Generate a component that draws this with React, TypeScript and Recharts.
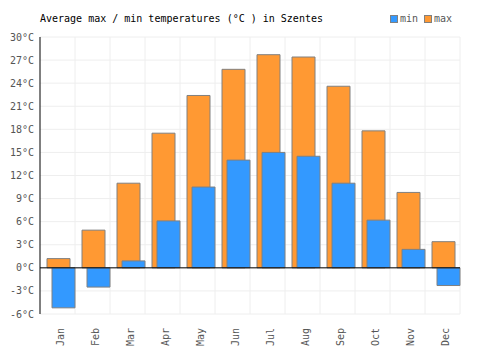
import { BarChart, Bar, XAxis, YAxis, CartesianGrid, ReferenceLine, Rectangle } from 'recharts'

const MONTHS = ['Jan', 'Feb', 'Mar', 'Apr', 'May', 'Jun', 'Jul', 'Aug', 'Sep', 'Oct', 'Nov', 'Dec']
const MAX_TEMPS = [1.2, 4.9, 11.0, 17.5, 22.4, 25.8, 27.7, 27.4, 23.6, 17.8, 9.8, 3.4]
const MIN_TEMPS = [-5.2, -2.5, 0.9, 6.1, 10.5, 14.0, 15.0, 14.5, 11.0, 6.2, 2.4, -2.3]
const Y_TICKS = [-6, -3, 0, 3, 6, 9, 12, 15, 18, 21, 24, 27, 30]

const data = MONTHS.map((m, i) => ({ month: m, max: MAX_TEMPS[i], min: MIN_TEMPS[i] }))

const MONO = '"DejaVu Sans Mono", monospace'
const BLUE = '#3399ff'
const ORANGE = '#ff9933'
const EDGE = '#808080'
const TEXT = '#555'

// bars sit towards the right side of each month slot
const shifted = (p: any) => <Rectangle {...p} x={p.x + 3} />

function MonthTick({ x, y, payload }: any) {
  return (
    <text
      transform={`translate(${x + 6},${y + 6}) rotate(-90)`}
      textAnchor="end"
      fill={TEXT}
      fontSize={10}
      fontFamily={MONO}
    >
      {payload.value}
    </text>
  )
}

function LegendItem({ color, label }: { color: string; label: string }) {
  return (
    <span style={{ display: 'inline-flex', alignItems: 'center', marginLeft: 6 }}>
      <span style={{ width: 6, height: 6, background: color, border: `1px solid ${EDGE}`, marginRight: 2 }} />
      <span>{label}</span>
    </span>
  )
}

export default function App() {
  return (
    <div style={{ position: 'absolute', left: 0, top: 0, width: 500, height: 350, background: '#fff' }}>
      <div style={{ position: 'absolute', left: 40, top: 13, fontFamily: MONO, fontSize: 10, color: '#000' }}>
        Average max / min temperatures (°C ) in Szentes
      </div>
      <div style={{ position: 'absolute', right: 48, top: 13, fontFamily: MONO, fontSize: 10, color: TEXT, display: 'flex' }}>
        <LegendItem color={BLUE} label="min" />
        <LegendItem color={ORANGE} label="max" />
      </div>
      <BarChart
        width={500}
        height={350}
        data={data}
        margin={{ top: 37, right: 40, bottom: 0, left: 0 }}
        barSize={23}
        barGap={-18}
      >
        <CartesianGrid
          stroke="#eee"
          verticalCoordinatesGenerator={({ offset }: any) =>
            MONTHS.map((_, i) => offset.left + ((i + 1) * offset.width) / MONTHS.length)
          }
        />
        <XAxis
          dataKey="month"
          height={36}
          axisLine={false}
          tickLine={false}
          interval={0}
          tick={<MonthTick />}
        />
        <YAxis
          width={40}
          domain={[-6, 30]}
          ticks={Y_TICKS}
          interval={0}
          tickSize={0}
          tickMargin={6}
          tickLine={false}
          axisLine={{ stroke: '#000' }}
          tickFormatter={(v: number) => `${v}°C`}
          tick={{ fill: TEXT, fontSize: 10, fontFamily: MONO }}
        />
        <Bar dataKey="max" fill={ORANGE} stroke={EDGE} strokeWidth={1} shape={shifted} isAnimationActive={false} />
        <Bar dataKey="min" fill={BLUE} stroke={EDGE} strokeWidth={1} shape={shifted} isAnimationActive={false} />
        <ReferenceLine y={0} stroke="#000" strokeWidth={1} />
      </BarChart>
    </div>
  )
}
